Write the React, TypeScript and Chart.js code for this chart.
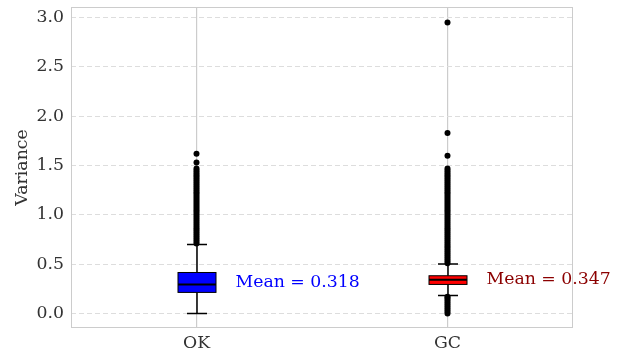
import React, { useEffect, useRef } from "react";
import { Chart, registerables } from "chart.js";

Chart.register(...registerables);

const categories = ["OK", "GC"];
const q1 = [0.213, 0.294];
const medians = [0.294, 0.341];
const q3 = [0.415, 0.382];
const whiskerLow = [0.0, 0.182];
const whiskerHigh = [0.7, 0.5];
const means = [0.318, 0.347];
const meanLabels = ["Mean = 0.318", "Mean = 0.347"];
const boxColors = ["#0000ff", "#ff0000"];
const meanColors = ["#0000ff", "#8b0000"];
const yTicks = [0, 0.5, 1.0, 1.5, 2.0, 2.5, 3.0];

const okOutliers = [
  0.71, 0.73, 0.75, 0.77, 0.79, 0.81, 0.83, 0.85, 0.87, 0.89, 0.91, 0.93, 0.95,
  0.97, 0.99, 1.01, 1.03, 1.05, 1.07, 1.09, 1.11, 1.13, 1.15, 1.17, 1.19, 1.21,
  1.23, 1.25, 1.27, 1.29, 1.31, 1.33, 1.35, 1.37, 1.39, 1.41, 1.43, 1.45, 1.47,
  1.53, 1.62,
];
const gcOutliers = [
  0.0, 0.02, 0.04, 0.06, 0.08, 0.1, 0.12, 0.14, 0.16, 0.17,
  0.51, 0.53, 0.55, 0.57, 0.59, 0.61, 0.63, 0.65, 0.67, 0.69, 0.71, 0.73, 0.75,
  0.77, 0.79, 0.81, 0.83, 0.85, 0.87, 0.89, 0.91, 0.93, 0.95, 0.97, 0.99, 1.01,
  1.03, 1.05, 1.07, 1.09, 1.11, 1.13, 1.15, 1.17, 1.19, 1.21, 1.23, 1.25, 1.27,
  1.29, 1.31, 1.33, 1.35, 1.37, 1.39, 1.41, 1.43, 1.45, 1.47, 1.6, 1.83, 2.95,
];
const outliers = [okOutliers, gcOutliers];

const FONT = "'DejaVu Serif', serif";
const FS = 17.3;

const boxPlugin = {
  id: "boxes",
  beforeDatasetsDraw(chart: any) {
    const { ctx, scales } = chart;
    const x = scales.x;
    const y = scales.y;
    const boxW = 38;
    const capW = 20;
    categories.forEach((_, i) => {
      const px = Math.round(x.getPixelForValue(i + 1));
      ctx.save();
      ctx.strokeStyle = "#000";
      ctx.lineWidth = 1.5;
      ctx.beginPath();
      ctx.moveTo(px, y.getPixelForValue(q3[i]));
      ctx.lineTo(px, y.getPixelForValue(whiskerHigh[i]));
      ctx.moveTo(px, y.getPixelForValue(q1[i]));
      ctx.lineTo(px, y.getPixelForValue(whiskerLow[i]));
      ctx.moveTo(px - capW / 2, y.getPixelForValue(whiskerHigh[i]));
      ctx.lineTo(px + capW / 2, y.getPixelForValue(whiskerHigh[i]));
      ctx.moveTo(px - capW / 2, y.getPixelForValue(whiskerLow[i]));
      ctx.lineTo(px + capW / 2, y.getPixelForValue(whiskerLow[i]));
      ctx.stroke();
      const top = y.getPixelForValue(q3[i]);
      const bot = y.getPixelForValue(q1[i]);
      ctx.fillStyle = boxColors[i];
      ctx.fillRect(px - boxW / 2, top, boxW, bot - top);
      ctx.lineWidth = 1;
      ctx.strokeRect(px - boxW / 2, top, boxW, bot - top);
      ctx.lineWidth = 2;
      ctx.beginPath();
      ctx.moveTo(px - boxW / 2, y.getPixelForValue(medians[i]));
      ctx.lineTo(px + boxW / 2, y.getPixelForValue(medians[i]));
      ctx.stroke();
      ctx.restore();
    });
  },
  afterDraw(chart: any) {
    const { ctx, scales, chartArea } = chart;
    const x = scales.x;
    const y = scales.y;
    ctx.save();
    ctx.strokeStyle = "#cccccc";
    ctx.lineWidth = 1;
    ctx.strokeRect(
      Math.round(chartArea.left) + 0.5,
      Math.round(chartArea.top) + 0.5,
      Math.round(chartArea.right - chartArea.left) - 1,
      Math.round(chartArea.bottom - chartArea.top) - 1
    );
    ctx.font = `${FS}px ${FONT}`;
    ctx.textAlign = "left";
    ctx.textBaseline = "middle";
    categories.forEach((_, i) => {
      ctx.fillStyle = meanColors[i];
      ctx.fillText(
        meanLabels[i],
        x.getPixelForValue(i + 1) + 39,
        y.getPixelForValue(means[i])
      );
    });
    ctx.restore();
  },
};

export default function App() {
  const ref = useRef<HTMLCanvasElement | null>(null);
  useEffect(() => {
    if (!ref.current) return;
    const chart = new Chart(ref.current, {
      type: "scatter",
      data: {
        datasets: outliers.map((arr, i) => ({
          label: categories[i],
          data: arr.map((v) => ({ x: i + 1, y: v })),
          backgroundColor: "#000",
          borderColor: "#000",
          pointRadius: 3,
          pointBorderWidth: 0,
        })),
      },
      plugins: [boxPlugin],
      options: {
        animation: false,
        responsive: true,
        maintainAspectRatio: false,
        layout: { padding: { left: 12, top: 7, right: 48, bottom: 0 } },
        plugins: { legend: { display: false }, tooltip: { enabled: false } },
        scales: {
          x: {
            type: "linear",
            min: 0.5,
            max: 2.5,
            afterBuildTicks: (s: any) => {
              s.ticks = categories.map((_, i) => ({ value: i + 1 }));
            },
            afterFit: (s: any) => {
              s.height = 28;
              s.paddingLeft = 0;
              s.paddingRight = 0;
            },
            ticks: {
              callback: (v: any) => categories[Number(v) - 1] ?? "",
              font: { family: FONT, size: FS },
              color: "#333",
              padding: 5,
            },
            grid: { color: "#cccccc", drawTicks: false, lineWidth: 1.2 },
            border: { display: false },
          },
          y: {
            type: "linear",
            min: -0.148,
            max: 3.108,
            afterBuildTicks: (s: any) => {
              s.ticks = yTicks.map((v) => ({ value: v }));
            },
            afterFit: (s: any) => {
              s.width = 59;
              s.paddingTop = 0;
              s.paddingBottom = 0;
            },
            ticks: {
              callback: (v: any) => Number(v).toFixed(1),
              font: { family: FONT, size: FS },
              color: "#333",
              padding: 7,
            },
            title: {
              display: true,
              text: "Variance",
              font: { family: FONT, size: FS },
              color: "#333",
              padding: 0,
            },
            grid: {
              color: "#dddddd",
              drawTicks: false,
              lineWidth: 1,
            },
            border: { display: false, dash: [5, 3] },
          },
        },
      },
    });
    return () => chart.destroy();
  }, []);
  return (
    <div style={{ position: "fixed", left: 0, top: 0, width: 621, height: 356 }}>
      <canvas ref={ref} />
    </div>
  );
}
